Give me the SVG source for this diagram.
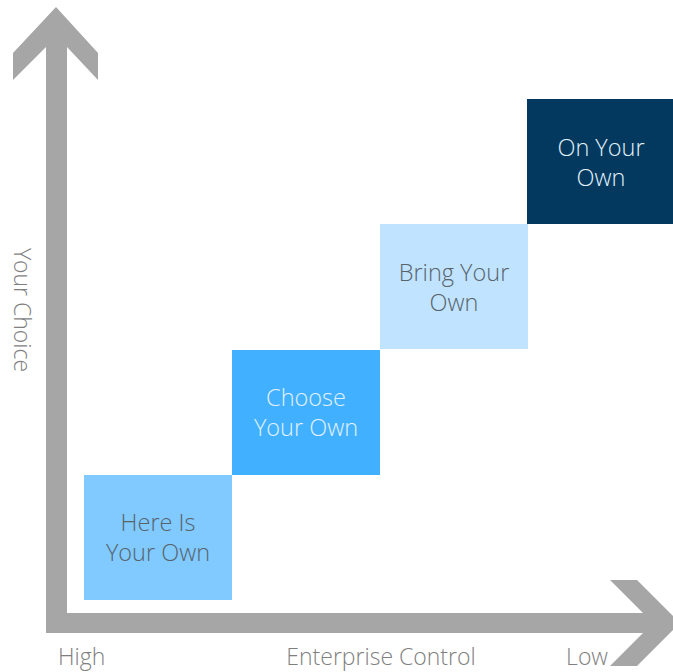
<svg xmlns="http://www.w3.org/2000/svg" width="673" height="672" viewBox="0 0 673 672">
  <style>
    .axis { fill: #a6a6a6; }
    .axis-label { font-family: "Open Sans", "Liberation Sans", sans-serif; font-weight: 300; font-size: 23px; fill: #7f7f7f; }
    .box-label { font-family: "Open Sans", "Liberation Sans", sans-serif; font-weight: 300; font-size: 23.5px; text-anchor: middle; }
    .dark-text { fill: #58636c; }
    .light-text { fill: #e2f1fb; }
  </style>
  <rect width="673" height="672" fill="#ffffff"/>

  <!-- axes -->
  <g id="axes">
    <polygon class="axis" points="56,7 98,53 98,80 67,47 67,613 643,613 610,580 637,580 680,623 637,666 610,666 643,633 46,633 46,47 13,80 13,53"/>
  </g>

  <!-- steps -->
  <g id="here-is-your-own">
    <rect x="84" y="475" width="148" height="125" fill="#80caff"/>
    <text class="box-label dark-text" x="158" y="531">Here Is</text>
    <text class="box-label dark-text" x="158" y="561">Your Own</text>
  </g>
  <g id="choose-your-own">
    <rect x="232" y="350" width="148" height="125" fill="#40b0ff"/>
    <text class="box-label light-text" x="306" y="406">Choose</text>
    <text class="box-label light-text" x="306" y="436">Your Own</text>
  </g>
  <g id="bring-your-own">
    <rect x="380" y="224" width="148" height="125" fill="#c0e4ff"/>
    <text class="box-label dark-text" x="454" y="281">Bring Your</text>
    <text class="box-label dark-text" x="454" y="311">Own</text>
  </g>
  <g id="on-your-own">
    <rect x="527" y="99" width="148" height="125" fill="#03395e"/>
    <text class="box-label light-text" x="601" y="156">On Your</text>
    <text class="box-label light-text" x="601" y="186">Own</text>
  </g>

  <!-- axis labels -->
  <g id="labels">
    <text class="axis-label" x="58" y="665">High</text>
    <text class="axis-label" x="381" y="665" text-anchor="middle">Enterprise Control</text>
    <text class="axis-label" x="608" y="665" text-anchor="end">Low</text>
    <text class="axis-label" transform="translate(14,310) rotate(90)" text-anchor="middle">Your Choice</text>
  </g>
</svg>
